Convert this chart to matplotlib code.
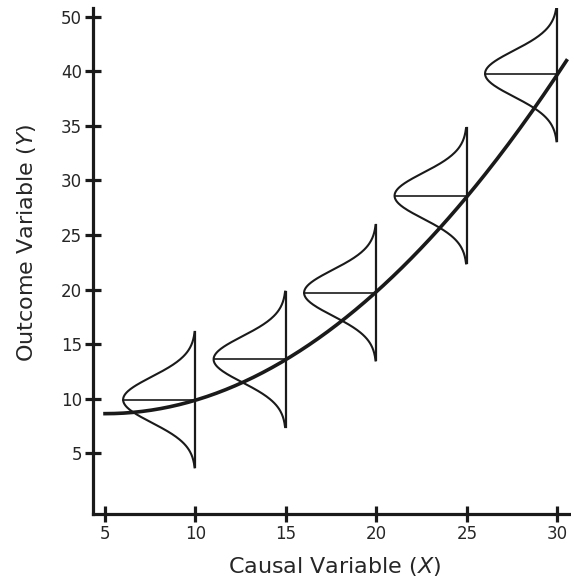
import numpy as np
import matplotlib.pyplot as plt

plt.rcParams['font.family'] = ['DejaVu Sans']
plt.rcParams['mathtext.fontset'] = 'dejavusans'

# conditional means of Y at each X where a distribution is drawn
dist_x = [10, 15, 20, 25, 30]
dist_mean = [9.9, 13.6, 19.7, 28.6, 39.8]
dist_sd = 2.1
dist_halfrange = 6.2
dist_width = 4.0

# points along the nonlinear regression curve
curve_x = [5.0, 10, 15, 20, 25, 30, 30.5]
curve_y = [8.6, 9.9, 13.6, 19.7, 28.6, 39.8, 40.9]

xticks = [5, 10, 15, 20, 25, 30]
yticks = [5, 10, 15, 20, 25, 30, 35, 40, 45]
ytick_labels = ['5', '10', '15', '20', '25', '30', '35', '40', '50']

ink = '#1a1a1a'
text_col = '#262626'

fig = plt.figure(figsize=(5.71, 5.83), dpi=100)
ax = fig.add_axes([0.163, 0.118, 0.837, 0.868])

# smooth quadratic through the curve points
coef = np.polyfit(curve_x, curve_y, 2)
xs = np.linspace(curve_x[0], curve_x[-1], 200)
ax.plot(xs, np.polyval(coef, xs), color=ink, lw=2.6, zorder=3)

for xv, m in zip(dist_x, dist_mean):
    ys = np.linspace(m - dist_halfrange, m + dist_halfrange, 200)
    dens = np.exp(-(ys - m) ** 2 / (2 * dist_sd ** 2))
    ax.plot(xv - dist_width * dens, ys, color=ink, lw=1.5, zorder=2)
    ax.plot([xv, xv], [ys[0], ys[-1]], color=ink, lw=1.6, zorder=2)
    ax.plot([xv - dist_width, xv], [m, m], color=ink, lw=1.2, zorder=2)

ax.set_xlim(4.34, 30.75)
ax.set_ylim(-0.6, 45.8)
ax.set_xticks(xticks)
ax.set_yticks(yticks)
ax.set_yticklabels(ytick_labels)

for side in ['top', 'right']:
    ax.spines[side].set_visible(False)
for side in ['left', 'bottom']:
    ax.spines[side].set_linewidth(2.3)
    ax.spines[side].set_color(ink)

ax.tick_params(direction='inout', length=12, width=2.3, color=ink,
               labelsize=12, labelcolor=text_col, pad=2)
ax.set_xlabel(r'Causal Variable ($\mathit{X}$)', fontsize=16, color=text_col)
ax.set_ylabel(r'Outcome Variable ($\mathit{Y}$)', fontsize=16, color=text_col)
ax.xaxis.set_label_coords(0.506, -0.08)
ax.yaxis.set_label_coords(-0.115, 0.536)

fig.savefig('out.png', dpi=100)
